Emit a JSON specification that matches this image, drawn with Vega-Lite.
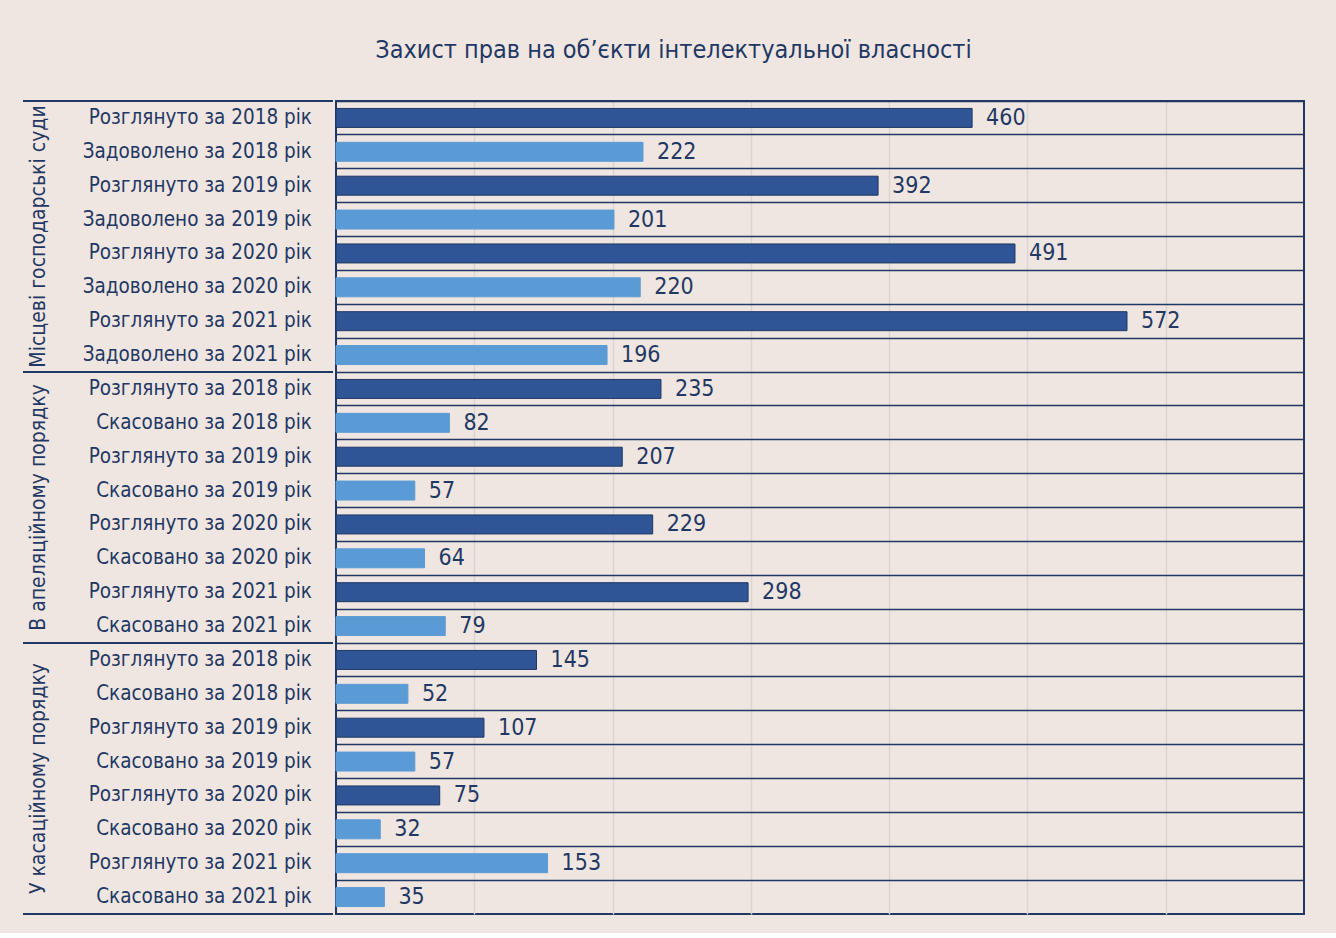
{
  "$schema": "https://vega.github.io/schema/vega-lite/v6.json",
  "background": "#f0e6e1",
  "padding": {"left": 22, "top": 38, "right": 33, "bottom": 18},
  "title": {"text": "Захист прав на об’єкти інтелектуальної власності", "fontSize": 25, "font": "Liberation Sans Narrow, DejaVu Sans Condensed, Roboto, sans-serif", "fontWeight": "normal", "color": "#1f3864", "anchor": "middle", "offset": 37, "dx": 10},
  "config": {"font": "Liberation Sans Narrow, DejaVu Sans Condensed, Roboto, sans-serif", "view": {"stroke": null}, "concat": {"spacing": 0}},
  "datasets": {
    "rows": [
      {"id": "01", "label": "Розглянуто за 2018 рік", "value": 460, "kind": "dark"},
      {"id": "02", "label": "Задоволено за 2018 рік", "value": 222, "kind": "light"},
      {"id": "03", "label": "Розглянуто за 2019 рік", "value": 392, "kind": "dark"},
      {"id": "04", "label": "Задоволено за 2019 рік", "value": 201, "kind": "light"},
      {"id": "05", "label": "Розглянуто за 2020 рік", "value": 491, "kind": "dark"},
      {"id": "06", "label": "Задоволено за 2020 рік", "value": 220, "kind": "light"},
      {"id": "07", "label": "Розглянуто за  2021 рік", "value": 572, "kind": "dark"},
      {"id": "08", "label": "Задоволено за  2021 рік", "value": 196, "kind": "light"},
      {"id": "09", "label": "Розглянуто за  2018 рік", "value": 235, "kind": "dark"},
      {"id": "10", "label": "Скасовано за 2018 рік", "value": 82, "kind": "light"},
      {"id": "11", "label": "Розглянуто за 2019 рік", "value": 207, "kind": "dark"},
      {"id": "12", "label": "Скасовано за 2019 рік", "value": 57, "kind": "light"},
      {"id": "13", "label": "Розглянуто за 2020 рік", "value": 229, "kind": "dark"},
      {"id": "14", "label": "Скасовано за 2020 рік", "value": 64, "kind": "light"},
      {"id": "15", "label": "Розглянуто за  2021 рік", "value": 298, "kind": "dark"},
      {"id": "16", "label": "Скасовано за  2021 рік", "value": 79, "kind": "light"},
      {"id": "17", "label": "Розглянуто за 2018 рік", "value": 145, "kind": "dark"},
      {"id": "18", "label": "Скасовано за 2018 рік", "value": 52, "kind": "light"},
      {"id": "19", "label": "Розглянуто за 2019 рік", "value": 107, "kind": "dark"},
      {"id": "20", "label": "Скасовано за 2019 рік", "value": 57, "kind": "light"},
      {"id": "21", "label": "Розглянуто за 2020 рік", "value": 75, "kind": "dark"},
      {"id": "22", "label": "Скасовано за 2020 рік", "value": 32, "kind": "light"},
      {"id": "23", "label": "Розглянуто  за 2021 рік", "value": 153, "kind": "light"},
      {"id": "24", "label": "Скасовано за 2021 рік", "value": 35, "kind": "light"}
    ],
    "groups": [
      {"g": "Місцеві господарські суди"},
      {"g": "В апеляційному порядку"},
      {"g": "У касаційному порядку"}
    ]
  },
  "hconcat": [
    {
      "width": 310,
      "height": 813,
      "layer": [
        {
          "data": {"name": "rows"},
          "mark": {"type": "text", "align": "right", "baseline": "middle", "dx": -21, "fontSize": 20.5, "color": "#1f3864"},
          "encoding": {
            "y": {"field": "id", "type": "nominal", "sort": "ascending", "scale": {"paddingInner": 0, "paddingOuter": 0}, "axis": null},
            "x": {"datum": 1, "type": "quantitative", "scale": {"domain": [0, 1]}, "axis": null},
            "text": {"field": "label"}
          }
        },
        {
          "data": {"name": "groups"},
          "mark": {"type": "text", "angle": 270, "align": "center", "baseline": "middle", "fontSize": 21, "color": "#1f3864"},
          "encoding": {
            "y": {"field": "g", "type": "nominal", "scale": {"domain": ["Місцеві господарські суди", "В апеляційному порядку", "У касаційному порядку"], "paddingInner": 0, "paddingOuter": 0}, "axis": null},
            "x": {"datum": 0.05, "type": "quantitative"},
            "text": {"field": "g"}
          }
        },
        {
          "data": {"name": "groups"},
          "mark": {"type": "rule", "color": "#1f3864", "strokeWidth": 2},
          "encoding": {
            "y": {"field": "g", "type": "nominal", "bandPosition": 0, "scale": {"domain": ["Місцеві господарські суди", "В апеляційному порядку", "У касаційному порядку"], "paddingInner": 0, "paddingOuter": 0}, "axis": null}
          }
        },
        {
          "data": {"name": "groups"},
          "mark": {"type": "rule", "color": "#1f3864", "strokeWidth": 2},
          "encoding": {
            "y": {"field": "g", "type": "nominal", "bandPosition": 1, "scale": {"domain": ["Місцеві господарські суди", "В апеляційному порядку", "У касаційному порядку"], "paddingInner": 0, "paddingOuter": 0}, "axis": null}
          }
        }
      ],
      "resolve": {"scale": {"y": "independent"}}
    },
    {
      "width": 968,
      "height": 813,
      "data": {"name": "rows"},
      "view": {"stroke": "#1f3864", "strokeWidth": 2},
      "encoding": {
        "y": {"field": "id", "type": "nominal", "sort": "ascending", "scale": {"paddingInner": 0, "paddingOuter": 0},
          "axis": {"labels": false, "ticks": false, "domain": false, "grid": true, "gridColor": "#1f3864", "gridWidth": 1.5, "bandPosition": 0, "title": null, "zindex": 1, "minExtent": 0, "maxExtent": 0, "labelPadding": 0, "tickSize": 0, "offset": 0}}
      },
      "layer": [
        {
          "mark": {"type": "bar", "height": {"band": 0.56}, "strokeWidth": 1},
          "encoding": {
            "x": {"field": "value", "type": "quantitative", "scale": {"domain": [0, 700], "nice": false},
              "axis": {"values": [100, 200, 300, 400, 500, 600], "labels": false, "ticks": false, "domain": false, "grid": true, "gridColor": "#d9d5d3", "gridWidth": 1.5, "title": null, "minExtent": 0, "maxExtent": 0}},
            "color": {"field": "kind", "type": "nominal", "scale": {"domain": ["dark", "light"], "range": ["#2f5597", "#5b9bd5"]}, "legend": null},
            "stroke": {"field": "kind", "type": "nominal", "scale": {"domain": ["dark", "light"], "range": ["#1f3864", "#5b9bd5"]}, "legend": null}
          }
        },
        {
          "mark": {"type": "text", "align": "left", "baseline": "middle", "dx": 14, "fontSize": 23, "color": "#1f3864"},
          "encoding": {
            "x": {"field": "value", "type": "quantitative"},
            "text": {"field": "value", "type": "quantitative"}
          }
        }
      ]
    }
  ]
}
